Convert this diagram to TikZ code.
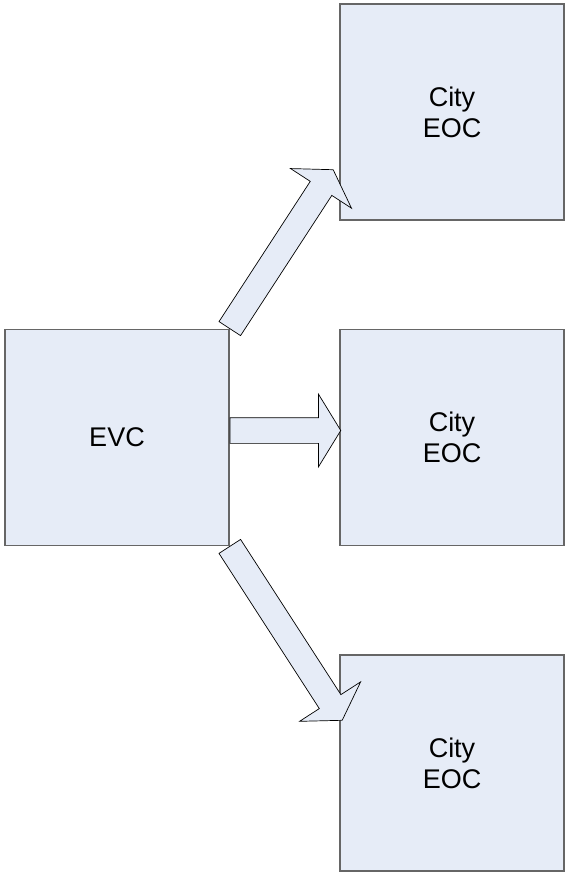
\documentclass[tikz,border=0pt]{standalone}
\usepackage{fontspec}
\setmainfont{Liberation Sans}
\usepackage{xcolor}
\usetikzlibrary{shapes.arrows}
\usetikzlibrary{calc}
\definecolor{boxblue}{RGB}{230,236,247}

% block arrow from one point to another
\newcommand\fatlink[2]{%
 \path let \p1=(#1), \p2=(#2), \n1={atan2(\y2-\y1,\x2-\x1)}, \n2={veclen(\x2-\x1,\y2-\y1)} in
  node[fatarrow, minimum height=\n2, rotate=\n1] at (\p1) {};}

\begin{document}
\begin{tikzpicture}[x=1pt,y=-1pt,
 box/.style={draw=black!60, line width=1.2pt, fill=boxblue, minimum width=224pt, minimum height=216pt, inner sep=0pt, align=center, font=\fontsize{27}{31}\selectfont},
 fatarrow/.style={single arrow, draw=black, line width=0.7pt, fill=boxblue, inner xsep=0pt, inner ysep=12.5pt, single arrow head extend=23.5pt, single arrow tip angle=117, anchor=tail}]
\useasboundingbox (0,0) rectangle (566,873);

 %boxes:
 \node[box] (evc) at (117,437.5) {EVC};
 \node[box] (eoca) at (452,112) {City\\EOC};
 \node[box] (eocb) at (452,437.5) {City\\EOC};
 \node[box] (eocc) at (452,763) {City\\EOC};

 %arrow ends
 \coordinate (taila) at (evc.north east);
 \coordinate (tipa) at (333,170);
 \coordinate (tailb) at ($(evc.east)+(0,-7)$);
 \coordinate (tipb) at ($(eocb.west)+(1,-7)$);
 \coordinate (tailc) at (evc.south east);
 \coordinate (tipc) at (342,720);

 %arrows:
 \fatlink{taila}{tipa}
 \fatlink{tailb}{tipb}
 \fatlink{tailc}{tipc}
\end{tikzpicture}
\end{document}
